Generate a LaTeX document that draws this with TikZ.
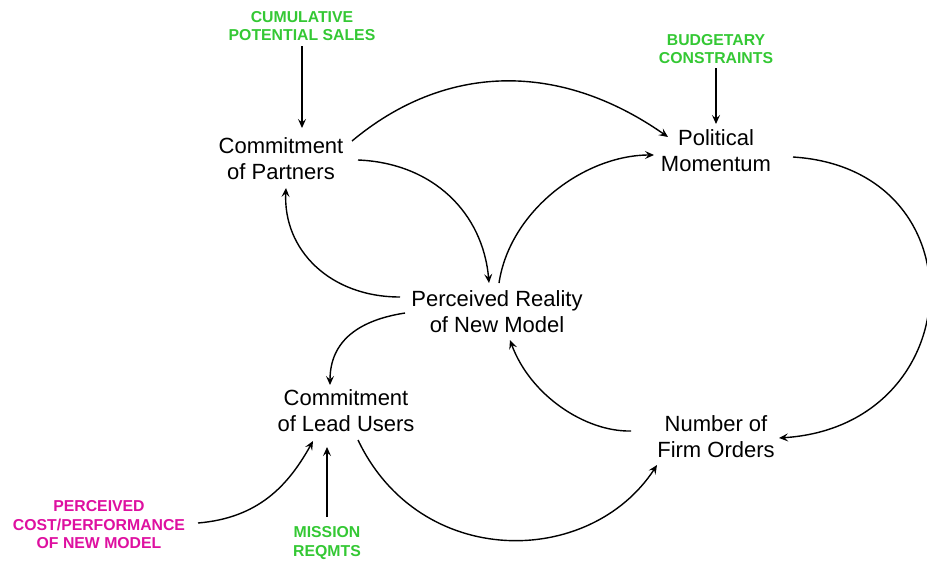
\documentclass[tikz,border=0pt]{standalone}
\usepackage{fontspec}
\setmainfont{Liberation Sans}
\usetikzlibrary{arrows.meta}
\definecolor{drivegreen}{RGB}{52,200,52}
\definecolor{drivemagenta}{RGB}{222,16,160}
\begin{document}
\begin{tikzpicture}[x=1pt,y=1pt,
  var/.style={align=center,inner sep=0pt,font=\fontsize{22}{26}\selectfont},
  driver/.style={align=center,inner sep=0pt,font=\fontsize{15.8}{18.5}\selectfont\bfseries,text=drivegreen},
  link/.style={line width=1.4pt,-{Stealth[length=9pt,width=8pt,inset=3.5pt]}}]
\useasboundingbox (0,0) rectangle (927,-560);

% variables of the loop
\node[var] (partners) at (281,-159) {Commitment\\of Partners};
\node[var] (pol)      at (716,-151) {Political\\Momentum};
\node[var] (real)     at (497,-312) {Perceived Reality\\of New Model};
\node[var] (lead)     at (346,-411) {Commitment\\of Lead Users};
\node[var] (orders)   at (716,-437) {Number of\\Firm Orders};

% external drivers
\node[driver] (cps)     at (302,-26)  {CUMULATIVE\\POTENTIAL SALES};
\node[driver] (budget)  at (716,-49)  {BUDGETARY\\CONSTRAINTS};
\node[driver,text=drivemagenta] (cost) at (99,-525) {PERCEIVED\\COST/PERFORMANCE\\OF NEW MODEL};
\node[driver] (mission) at (327,-543) {MISSION\\REQMTS};

% driver links
\draw[link] ([shift={(0,-20)}]cps.center) -- ([shift={(21,31)}]partners.center);
\draw[link] ([shift={(0,-19)}]budget.center) -- ([shift={(0,27)}]pol.center);
\draw[link] ([shift={(0,26)}]mission.center) -- ([shift={(-19,-36)}]lead.center);
\draw[link] ([shift={(99,2)}]cost.center) .. controls +(60,5) and +(-25,-45) .. ([shift={(-33,-30)}]lead.center);

% loop links
\draw[link] ([shift={(71,18)}]partners.center) .. controls +(92,77) and +(-110,77) .. ([shift={(-48,14)}]pol.center);
\draw[link] ([shift={(77,-1)}]partners.center) .. controls +(75,-3) and +(-6,70) .. ([shift={(-8,29)}]real.center);
\draw[link] ([shift={(-97,15)}]real.center) .. controls +(-70,0) and +(-3,-62) .. ([shift={(5,-29)}]partners.center);
\draw[link] ([shift={(2,29)}]real.center) .. controls +(11,73) and +(-69,0) .. ([shift={(-62,-4)}]pol.center);
\draw[link] ([shift={(77,-6)}]pol.center) .. controls +(190,-12) and +(192,12) .. ([shift={(63,-1)}]orders.center);
\draw[link] ([shift={(-85,6)}]orders.center) .. controls +(-46,-1) and +(20,-55) .. ([shift={(13,-28)}]real.center);
\draw[link] ([shift={(-92,-1)}]real.center) .. controls +(-45,-7) and +(0,45) .. ([shift={(-16,26)}]lead.center);
\draw[link] ([shift={(12,-29)}]lead.center) .. controls +(62,-130) and +(-67,-103) .. ([shift={(-59,-28)}]orders.center);
\end{tikzpicture}
\end{document}
